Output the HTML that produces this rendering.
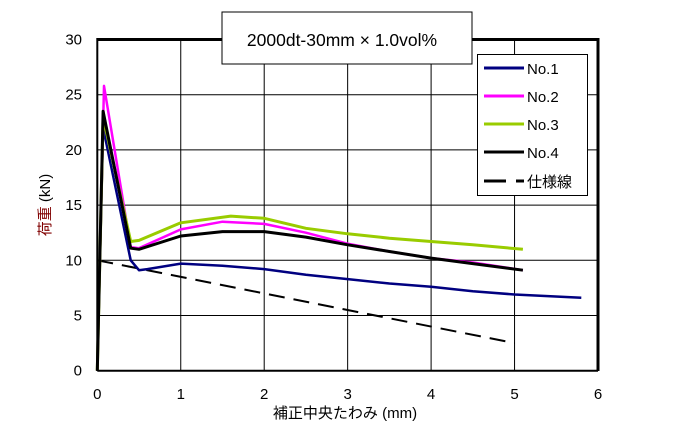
<!DOCTYPE html>
<html><head><meta charset="utf-8"><style>
body{margin:0;background:#fff;}
svg{display:block;font-family:"Liberation Sans","Noto Sans CJK JP",sans-serif;}
</style></head><body>
<svg id="s" width="679" height="437" viewBox="0 0 679 437">
<rect width="679" height="437" fill="#fff"/>
<g id="grid" stroke="#000" stroke-width="1"></g>
<g id="lines" fill="none" stroke-linejoin="round"></g>
<line x1="97.3" y1="39.5" x2="598" y2="39.5" stroke="#000" stroke-width="3"/>
<line x1="598" y1="38" x2="598" y2="371" stroke="#000" stroke-width="3"/>
<line x1="97.3" y1="370.7" x2="598" y2="370.7" stroke="#000" stroke-width="2"/>
<line x1="97.3" y1="38" x2="97.3" y2="371" stroke="#000" stroke-width="2"/>
<rect x="222" y="12" width="250" height="52" fill="#fff" stroke="#000" stroke-width="1"/>
<text x="342" y="46" font-size="17.5" text-anchor="middle">2000dt-30mm × 1.0vol%</text>
<rect x="477.5" y="54.5" width="110" height="141" fill="#fff" stroke="#000" stroke-width="1"/>
<g stroke-width="3">
<line x1="484" y1="68" x2="524" y2="68" stroke="#000080"/>
<line x1="484" y1="96" x2="524" y2="96" stroke="#ff00ff"/>
<line x1="484" y1="124" x2="524" y2="124" stroke="#99cc00"/>
<line x1="484" y1="152" x2="524" y2="152" stroke="#000"/>
<line x1="484" y1="181" x2="506" y2="181" stroke="#000"/>
<line x1="516" y1="181" x2="524" y2="181" stroke="#000"/>
</g>
<g font-size="15">
<text x="527" y="74">No.1</text><text x="527" y="102">No.2</text><text x="527" y="130">No.3</text><text x="527" y="158">No.4</text><text x="527" y="187">仕様線</text>
</g>
<g id="ticks" font-size="15"></g>
<text x="345" y="418" font-size="15" text-anchor="middle">補正中央たわみ (mm)</text>
<text transform="translate(50,205) rotate(-90)" font-size="15" text-anchor="middle"><tspan fill="#800000">荷重</tspan> (kN)</text>
</svg>
<script>
var X=function(x){return 97.3+83.45*x},Y=function(v){return 370.7-11.04*v};
var ns="http://www.w3.org/2000/svg";
function el(p,t,a,txt){var e=document.createElementNS(ns,t);for(var k in a)e.setAttribute(k,a[k]);if(txt!==undefined)e.textContent=txt;document.getElementById(p).appendChild(e);}
for(var i=1;i<6;i++)el("grid","line",{x1:X(i),y1:39,x2:X(i),y2:371});
for(var j=5;j<30;j+=5)el("grid","line",{x1:97,y1:Y(j),x2:598,y2:Y(j)});
for(var i=0;i<=6;i++)el("ticks","text",{x:X(i),y:399,"text-anchor":"middle"},i);
for(var j=0;j<=30;j+=5)el("ticks","text",{x:82,y:Y(j)+5,"text-anchor":"end"},j);
function pl(pts,c,w,d){var s=pts.map(function(p){return X(p[0]).toFixed(1)+","+Y(p[1]).toFixed(1)}).join(" ");var a={points:s,stroke:c,"stroke-width":w};if(d)a["stroke-dasharray"]=d;el("lines","polyline",a);}
pl([[0,10],[5,2.5]],"#000",2,"16,9");
pl([[0,0],[0.07,22],[0.4,10],[0.5,9.1],[0.6,9.2],[1,9.7],[1.5,9.5],[2,9.2],[2.5,8.7],[3,8.3],[3.5,7.9],[4,7.6],[4.5,7.2],[5,6.9],[5.8,6.6]],"#000080",2.5);
pl([[0,0],[0.08,25.8],[0.4,11.2],[0.5,11.1],[1,12.8],[1.5,13.5],[2,13.3],[2.5,12.5],[3,11.5],[3.5,10.8],[4,10.2],[4.5,9.8],[5.1,9.1]],"#ff00ff",2.5);
pl([[0,0],[0.07,23],[0.4,11.7],[0.5,11.8],[1,13.4],[1.6,14.0],[2,13.8],[2.5,12.9],[3,12.4],[3.5,12.0],[4,11.7],[4.5,11.4],[5.1,11.0]],"#99cc00",3);
pl([[0,0],[0.07,23.5],[0.4,11.1],[0.5,11.0],[1,12.2],[1.5,12.6],[2,12.6],[2.5,12.1],[3,11.4],[3.5,10.8],[4,10.2],[4.5,9.7],[5.1,9.1]],"#000",3);
</script>
</body></html>
